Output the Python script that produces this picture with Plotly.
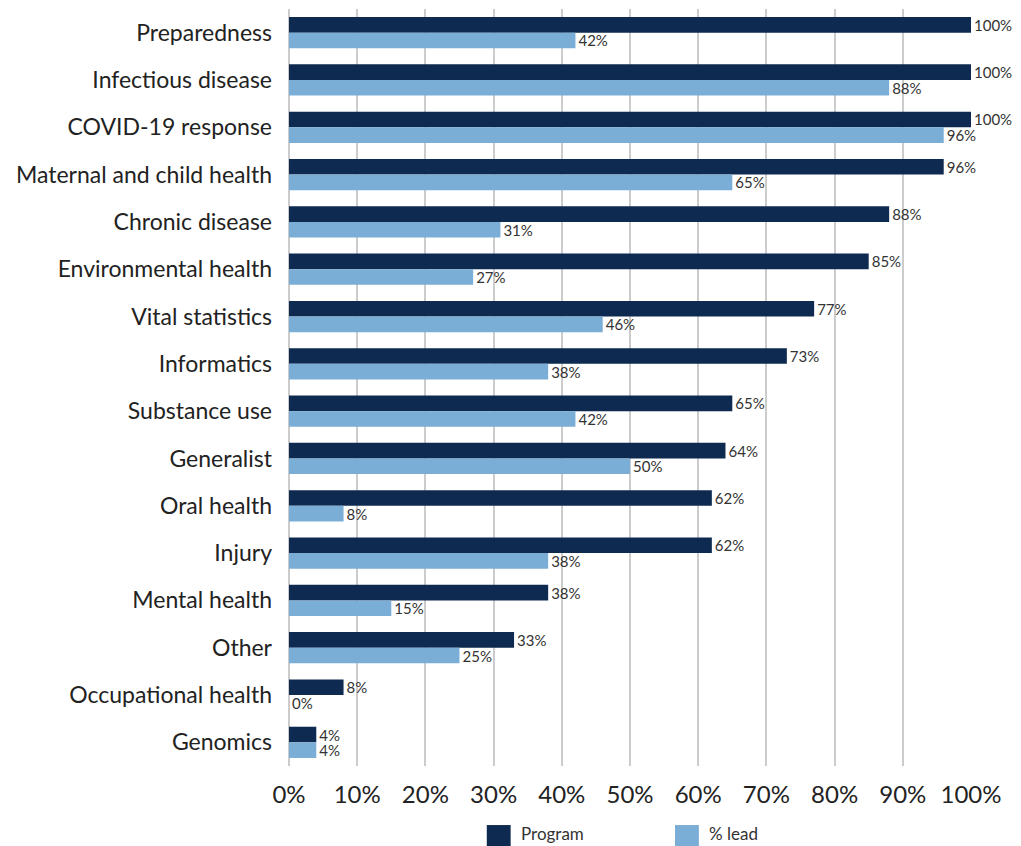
import plotly.graph_objects as go

categories = [
    "Preparedness", "Infectious disease", "COVID-19 response",
    "Maternal and child health", "Chronic disease", "Environmental health",
    "Vital statistics", "Informatics", "Substance use", "Generalist",
    "Oral health", "Injury", "Mental health", "Other",
    "Occupational health", "Genomics",
]
program = [100, 100, 100, 96, 88, 85, 77, 73, 65, 64, 62, 62, 38, 33, 8, 4]
lead = [42, 88, 96, 65, 31, 27, 46, 38, 42, 50, 8, 38, 15, 25, 0, 4]
x_ticks = list(range(0, 101, 10))
x_tick_labels = [f"{v}%" for v in x_ticks]
series_names = ["Program", "% lead"]

DARK = "#0e2a50"
LIGHT = "#7aaed6"
FONT = "Lato"
TEXT = "#333333"

fig = go.Figure()
for name, values, color in zip(series_names, [program, lead], [DARK, LIGHT]):
    fig.add_trace(go.Bar(
        y=categories, x=values, orientation="h", name=name,
        marker=dict(color=color, line=dict(width=0)),
        text=[f"{v}%" for v in values], textposition="outside",
        textfont=dict(size=15, color=TEXT, family=FONT),
        constraintext="none", cliponaxis=False, showlegend=False,
    ))

# Legend: large colour swatches with labels under the axis
legend_items = [(series_names[0], DARK, 0.290), (series_names[1], LIGHT, 0.566)]
for name, color, x0 in legend_items:
    fig.add_shape(type="rect", xref="paper", yref="paper",
                  x0=x0, x1=x0 + 0.035, y0=-0.078, y1=-0.112,
                  fillcolor=color, line=dict(width=0))
    fig.add_annotation(xref="paper", yref="paper", x=x0 + 0.047, y=-0.089,
                       text=name, showarrow=False, xanchor="left",
                       yanchor="middle",
                       font=dict(size=17, color=TEXT, family=FONT))

fig.update_layout(
    width=1021, height=846,
    margin=dict(l=289, r=50, t=9, b=80),
    paper_bgcolor="white", plot_bgcolor="white",
    barmode="group", bargap=0.34, bargroupgap=0,
    font=dict(family=FONT, color="#222222"),
    showlegend=False,
)
fig.update_xaxes(
    range=[0, 100], tickmode="array", tickvals=x_ticks, ticktext=x_tick_labels,
    showgrid=True, gridcolor="#cccccc", gridwidth=2,
    zeroline=True, zerolinecolor="#cccccc", zerolinewidth=2,
    tickfont=dict(size=24, color="#222222", family=FONT),
    ticks="", showline=False, ticklabelstandoff=12, automargin=False,
)
fig.update_yaxes(
    categoryorder="array", categoryarray=categories, autorange="reversed",
    tickfont=dict(size=23, color="#222222", family=FONT),
    ticks="", showline=False, showgrid=False, ticklabelstandoff=16,
    automargin=False,
)

fig.write_html("out.html")
